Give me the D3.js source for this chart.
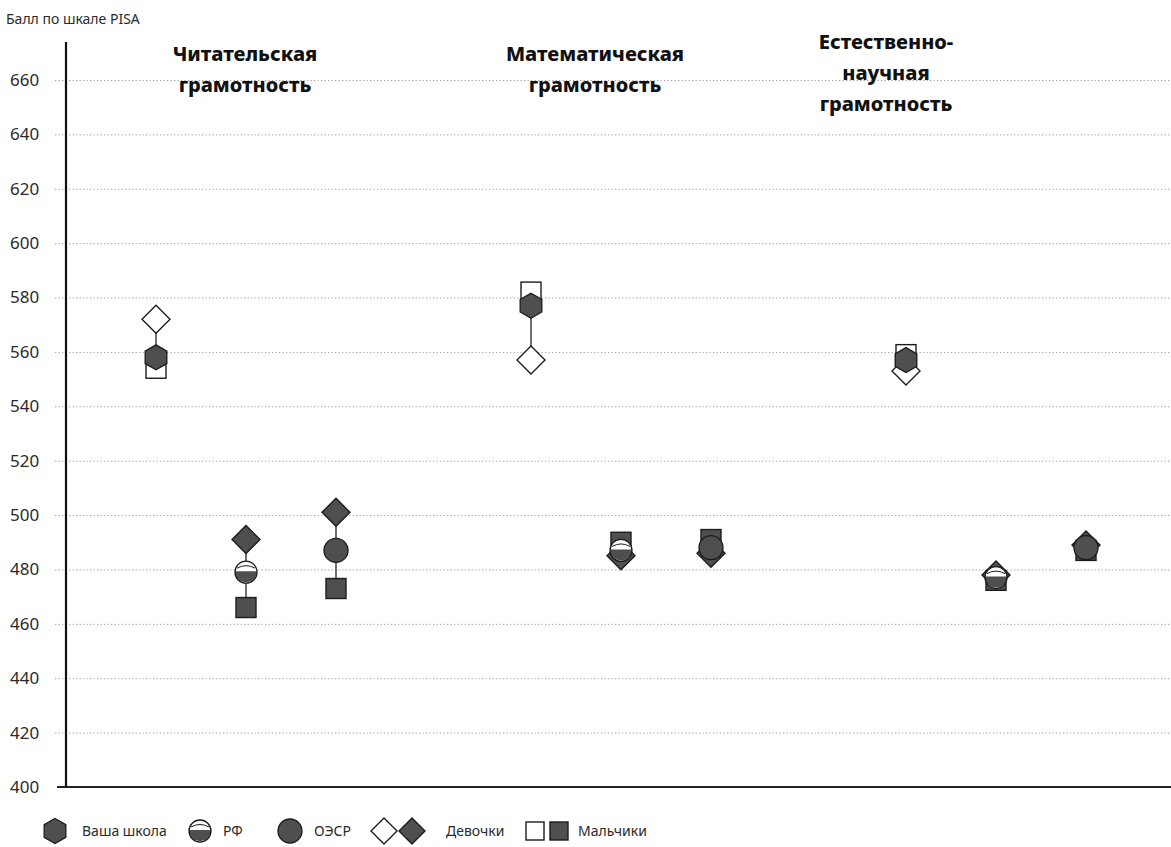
<!DOCTYPE html>
<html>
<head>
<meta charset="utf-8">
<script src="https://cdn.jsdelivr.net/npm/d3@7"></script>
<style>
  body { margin: 0; background: #fff; }
  svg { display: block; }
  .tick text { font-family: "Noto Sans", sans-serif; }
</style>
</head>
<body>
<svg id="chart" width="1171" height="847"></svg>
<script>
// subjects (titles split into lines)
var subjects = ["reading", "math", "science"];
var subjectTitles = [
  ["Читательская", "грамотность"],
  ["Математическая", "грамотность"],
  ["Естественно-", "научная", "грамотность"]
];
var groups = ["Ваша школа", "РФ", "ОЭСР"];

// scores per subject, in order: school, RF, OECD
var meanScores = [[558, 479, 487], [577, 487, 488], [557, 477, 488]];
var girlsScores = [[572, 491, 501], [557, 485, 486], [553, 478, 489]];
var boysScores = [[554, 466, 473], [582, 490, 491], [559, 476, 487]];

var yTicks = [400, 420, 440, 460, 480, 500, 520, 540, 560, 580, 600, 620, 640, 660];
var legendLabels = ["Ваша школа", "РФ", "ОЭСР", "Девочки", "Мальчики"];

var svg = d3.select("#chart");
var width = 1171;

var fillDark = "#4f4f4f",
    strokeDark = "#1c1c1c";

var yScale = d3.scaleLinear().domain([400, 660]).range([787, 80]);

var xSubject = d3.scaleBand().domain(subjects).range([66, 1191]);
var xGroup = d3.scalePoint().domain(groups).range([90, 270]);

// grid lines (dotted)
var yAxis = d3.axisLeft(yScale)
  .tickValues(yTicks)
  .tickSize(-(width - 55))
  .tickFormat(d3.format("d"));

var gAxis = svg.append("g")
  .attr("transform", "translate(55,0)")
  .call(yAxis);
gAxis.select(".domain").remove();
gAxis.selectAll(".tick line")
  .attr("stroke", "#a0a0a0")
  .attr("stroke-width", 1)
  .attr("stroke-dasharray", "1.3,2.2")
  .attr("opacity", function(d) { return d === 400 ? 0 : 1; });
gAxis.selectAll(".tick text")
  .attr("x", -45)
  .attr("text-anchor", "start")
  .attr("fill", "#2a2a2a")
  .style("font-size", "17px");

// axis lines
svg.append("line")
  .attr("x1", 57).attr("x2", width)
  .attr("y1", yScale(400)).attr("y2", yScale(400))
  .attr("stroke", "#222").attr("stroke-width", 2);
svg.append("line")
  .attr("x1", 66).attr("x2", 66)
  .attr("y1", 42).attr("y2", yScale(400))
  .attr("stroke", "#111").attr("stroke-width", 2.2);

// axis title
svg.append("text")
  .attr("x", 6).attr("y", 24)
  .attr("fill", "#2a2a2a")
  .style("font-family", "Noto Sans, sans-serif")
  .style("font-size", "14px")
  .text("Балл по шкале PISA");

// subject titles
var titleShift = [179, 154, 70];
var titleTop = [61, 61, 49];
subjects.forEach(function(s, i) {
  var t = svg.append("text")
    .attr("text-anchor", "middle")
    .attr("fill", "#111")
    .style("font-family", "Noto Sans, sans-serif")
    .style("font-weight", "800")
    .style("font-size", "20px");
  subjectTitles[i].forEach(function(line, k) {
    t.append("tspan")
      .attr("x", xSubject(s) + titleShift[i])
      .attr("y", titleTop[i] + k * 31)
      .text(line);
  });
});

// marker shapes
function hexPath(r) {
  var pts = d3.range(6).map(function(k) {
    var a = Math.PI / 3 * k - Math.PI / 2;
    return [r * Math.cos(a), r * Math.sin(a)];
  });
  return "M" + pts.join("L") + "Z";
}
function diamondPath(r) {
  return "M0," + (-r) + "L" + r + ",0L0," + r + "L" + (-r) + ",0Z";
}

function drawMain(g, gi, x, y) {
  if (gi === 0) {
    g.append("path").attr("d", hexPath(12.5))
      .attr("transform", "translate(" + x + "," + y + ")")
      .attr("fill", fillDark).attr("stroke", strokeDark).attr("stroke-width", 1.3);
  } else if (gi === 1) {
    var r = 11;
    var c = g.append("g").attr("transform", "translate(" + x + "," + y + ")");
    c.append("circle").attr("r", r).attr("fill", "#fff");
    c.append("path")
      .attr("d", "M" + (-r) + ",-1A" + r + "," + r + " 0 0,0 " + r + ",-1Z")
      .attr("fill", fillDark);
    c.append("path")
      .attr("d", "M" + (-r + 2) + ",-4Q0,-9 " + (r - 2) + ",-4")
      .attr("fill", "none").attr("stroke", strokeDark).attr("stroke-width", 1);
    c.append("circle").attr("r", r).attr("fill", "none")
      .attr("stroke", strokeDark).attr("stroke-width", 1.3);
  } else {
    g.append("circle").attr("cx", x).attr("cy", y).attr("r", 12)
      .attr("fill", fillDark).attr("stroke", strokeDark).attr("stroke-width", 1.3);
  }
}

subjects.forEach(function(s, si) {
  groups.forEach(function(grp, gi) {
    var x = xSubject(s) + xGroup(grp);
    var vals = [meanScores[si][gi], girlsScores[si][gi], boysScores[si][gi]];
    var open = gi === 0;
    var g = svg.append("g");

    g.append("line")
      .attr("x1", x).attr("x2", x)
      .attr("y1", yScale(d3.max(vals))).attr("y2", yScale(d3.min(vals)))
      .attr("stroke", "#222").attr("stroke-width", 1.3);

    g.append("path").attr("d", diamondPath(14))
      .attr("transform", "translate(" + x + "," + yScale(girlsScores[si][gi]) + ")")
      .attr("fill", open ? "#fff" : fillDark)
      .attr("stroke", strokeDark).attr("stroke-width", 1.4);

    g.append("rect")
      .attr("x", x - 10).attr("y", yScale(boysScores[si][gi]) - 10)
      .attr("width", 20).attr("height", 20)
      .attr("fill", open ? "#fff" : fillDark)
      .attr("stroke", strokeDark).attr("stroke-width", 1.4);

    drawMain(g, gi, x, yScale(meanScores[si][gi]));
  });
});

// legend
var ly = 831;
var leg = svg.append("g");
var legText = function(x, label) {
  leg.append("text").attr("x", x).attr("y", ly + 5)
    .attr("fill", "#2a2a2a")
    .style("font-family", "Noto Sans, sans-serif")
    .style("font-size", "14px")
    .text(label);
};
drawMain(leg, 0, 55, ly);
legText(82, legendLabels[0]);
drawMain(leg, 1, 200, ly);
legText(223, legendLabels[1]);
drawMain(leg, 2, 290, ly);
legText(314, legendLabels[2]);
leg.append("path").attr("d", diamondPath(13))
  .attr("transform", "translate(384," + ly + ")")
  .attr("fill", "#fff").attr("stroke", strokeDark).attr("stroke-width", 1.4);
leg.append("path").attr("d", diamondPath(13))
  .attr("transform", "translate(412," + ly + ")")
  .attr("fill", fillDark).attr("stroke", strokeDark).attr("stroke-width", 1.4);
legText(446, legendLabels[3]);
leg.append("rect").attr("x", 526).attr("y", ly - 9).attr("width", 18).attr("height", 18)
  .attr("fill", "#fff").attr("stroke", strokeDark).attr("stroke-width", 1.4);
leg.append("rect").attr("x", 550).attr("y", ly - 9).attr("width", 18).attr("height", 18)
  .attr("fill", fillDark).attr("stroke", strokeDark).attr("stroke-width", 1.4);
legText(578, legendLabels[4]);
</script>
</body>
</html>
